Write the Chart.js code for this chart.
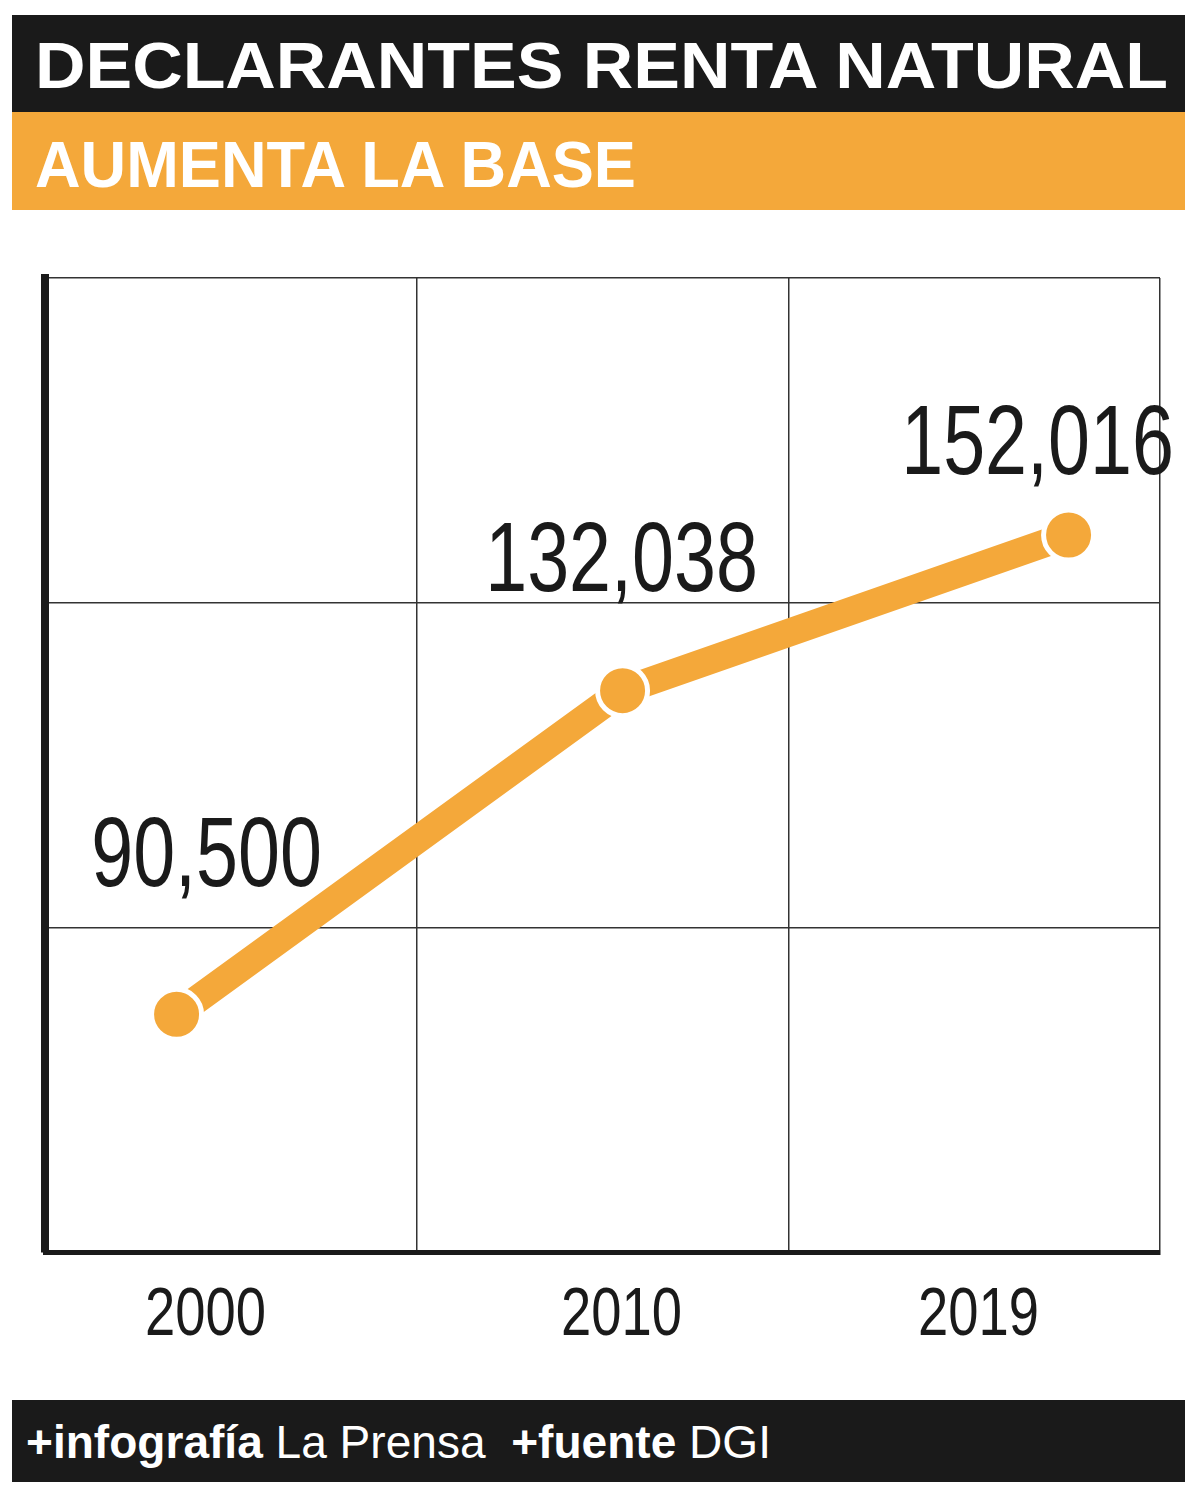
<!DOCTYPE html>
<html>
<head>
<meta charset="utf-8">
<script src="https://cdn.jsdelivr.net/npm/chart.js@4/dist/chart.umd.min.js"></script>
<style>
  html,body{margin:0;padding:0;background:#fff;width:1200px;height:1494px;overflow:hidden;}
  #wrap{position:relative;width:1200px;height:1494px;}
  canvas{position:absolute;left:0;top:0;}
  .bar{position:absolute;left:12px;width:1173px;}
  .txt{position:absolute;white-space:nowrap;color:#fff;font-family:"Liberation Sans",Arial,sans-serif;transform-origin:0 0;}
</style>
</head>
<body>
<div id="wrap">
  <canvas id="c" width="1200" height="1494"></canvas>
  <div class="bar" style="top:15px;height:97px;background:#1a1a1a;"></div>
  <div class="bar" style="top:112px;height:98px;background:#F4A83A;"></div>
  <div class="bar" style="top:1400px;height:82px;background:#1a1a1a;"></div>
  <div id="title" class="txt" style="left:35px;top:33px;font-size:65px;line-height:65px;font-weight:bold;" data-w="1133"></div>
  <div id="subtitle" class="txt" style="left:35px;top:132px;font-size:65px;line-height:65px;font-weight:bold;" data-w="601"></div>
  <div id="footer" class="txt" style="left:26px;top:1419px;font-size:46px;line-height:46px;" data-w="745"></div>
</div>
<script>
// ---- data ----
const titleText = "DECLARANTES RENTA NATURAL";
const subtitleText = "AUMENTA LA BASE";
const years = ["2000", "2010", "2019"];
const declarantes = [90500, 132038, 152016];
const valueLabels = ["90,500", "132,038", "152,016"];
const footerCredit = ["+infografía", "La Prensa", "+fuente", "DGI"];

// ---- header / footer text ----
document.getElementById('title').textContent = titleText;
document.getElementById('subtitle').textContent = subtitleText;
document.getElementById('footer').innerHTML =
  '<b>' + footerCredit[0] + '</b> ' + footerCredit[1] + '&nbsp;&nbsp;<b>' + footerCredit[2] + '</b> ' + footerCredit[3];
document.querySelectorAll('.txt').forEach(el => {
  const target = parseFloat(el.dataset.w);
  const w = el.getBoundingClientRect().width;
  el.style.transform = 'scaleX(' + (target / w) + ')';
});

// ---- chart ----
const ORANGE = '#F4A83A';
const INK = '#1a1a1a';
const labelOffsets = [{dx: 30, dy: -128}, {dx: -1, dy: -100}, {dx: -31, dy: -61}];
const yearOffsets = [29, -1, -90];

function thirds(scale) {
  const step = (scale.max - scale.min) / 3;
  scale.ticks = [0, 1, 2, 3].map(i => ({value: scale.min + i * step}));
}

const labelPlugin = {
  id: 'labels',
  afterDatasetsDraw(chart) {
    const ctx = chart.ctx;
    const meta = chart.getDatasetMeta(0);
    const xs = chart.scales.x;
    const area = chart.chartArea;
    ctx.save();
    ctx.fillStyle = INK;
    ctx.textAlign = 'center';
    ctx.textBaseline = 'alphabetic';
    meta.data.forEach((pt, i) => {
      ctx.save();
      ctx.translate(pt.x + labelOffsets[i].dx, pt.y + labelOffsets[i].dy);
      ctx.scale(0.77, 1);
      ctx.font = '98px "Liberation Sans", Arial, sans-serif';
      ctx.fillText(valueLabels[i], 0, 0);
      ctx.restore();
    });
    years.forEach((y, i) => {
      ctx.save();
      ctx.translate(xs.getPixelForValue(i) + yearOffsets[i], area.bottom + 83);
      ctx.scale(0.8, 1);
      ctx.font = '68px "Liberation Sans", Arial, sans-serif';
      ctx.fillText(y, 0, 0);
      ctx.restore();
    });
    ctx.restore();
  }
};

new Chart(document.getElementById('c'), {
  type: 'line',
  data: {
    datasets: [{
      data: declarantes.map((v, i) => ({x: i, y: v})),
      borderColor: ORANGE,
      backgroundColor: ORANGE,
      borderWidth: 28,
      pointBackgroundColor: ORANGE,
      pointBorderColor: '#ffffff',
      pointBorderWidth: 5,
      pointRadius: 25,
      tension: 0,
      fill: false,
      clip: false
    }]
  },
  options: {
    responsive: false,
    animation: false,
    events: [],
    elements: {line: {borderWidth: 28, borderCapStyle: 'butt'}},
    layout: {padding: {left: 45, right: 40, top: 278, bottom: 242}},
    plugins: {legend: {display: false}, tooltip: {enabled: false}},
    scales: {
      x: {
        type: 'linear',
        min: -0.295,
        max: 2.205,
        afterBuildTicks: thirds,
        ticks: {display: false},
        grid: {color: '#333', lineWidth: 1.5, drawTicks: false},
        border: {display: true, color: INK, width: 5}
      },
      y: {
        type: 'linear',
        min: 60000,
        max: 185000,
        afterBuildTicks: thirds,
        ticks: {display: false},
        grid: {color: '#333', lineWidth: 1.5, drawTicks: false},
        border: {display: true, color: INK, width: 8}
      }
    }
  },
  plugins: [labelPlugin]
});
</script>
</body>
</html>
